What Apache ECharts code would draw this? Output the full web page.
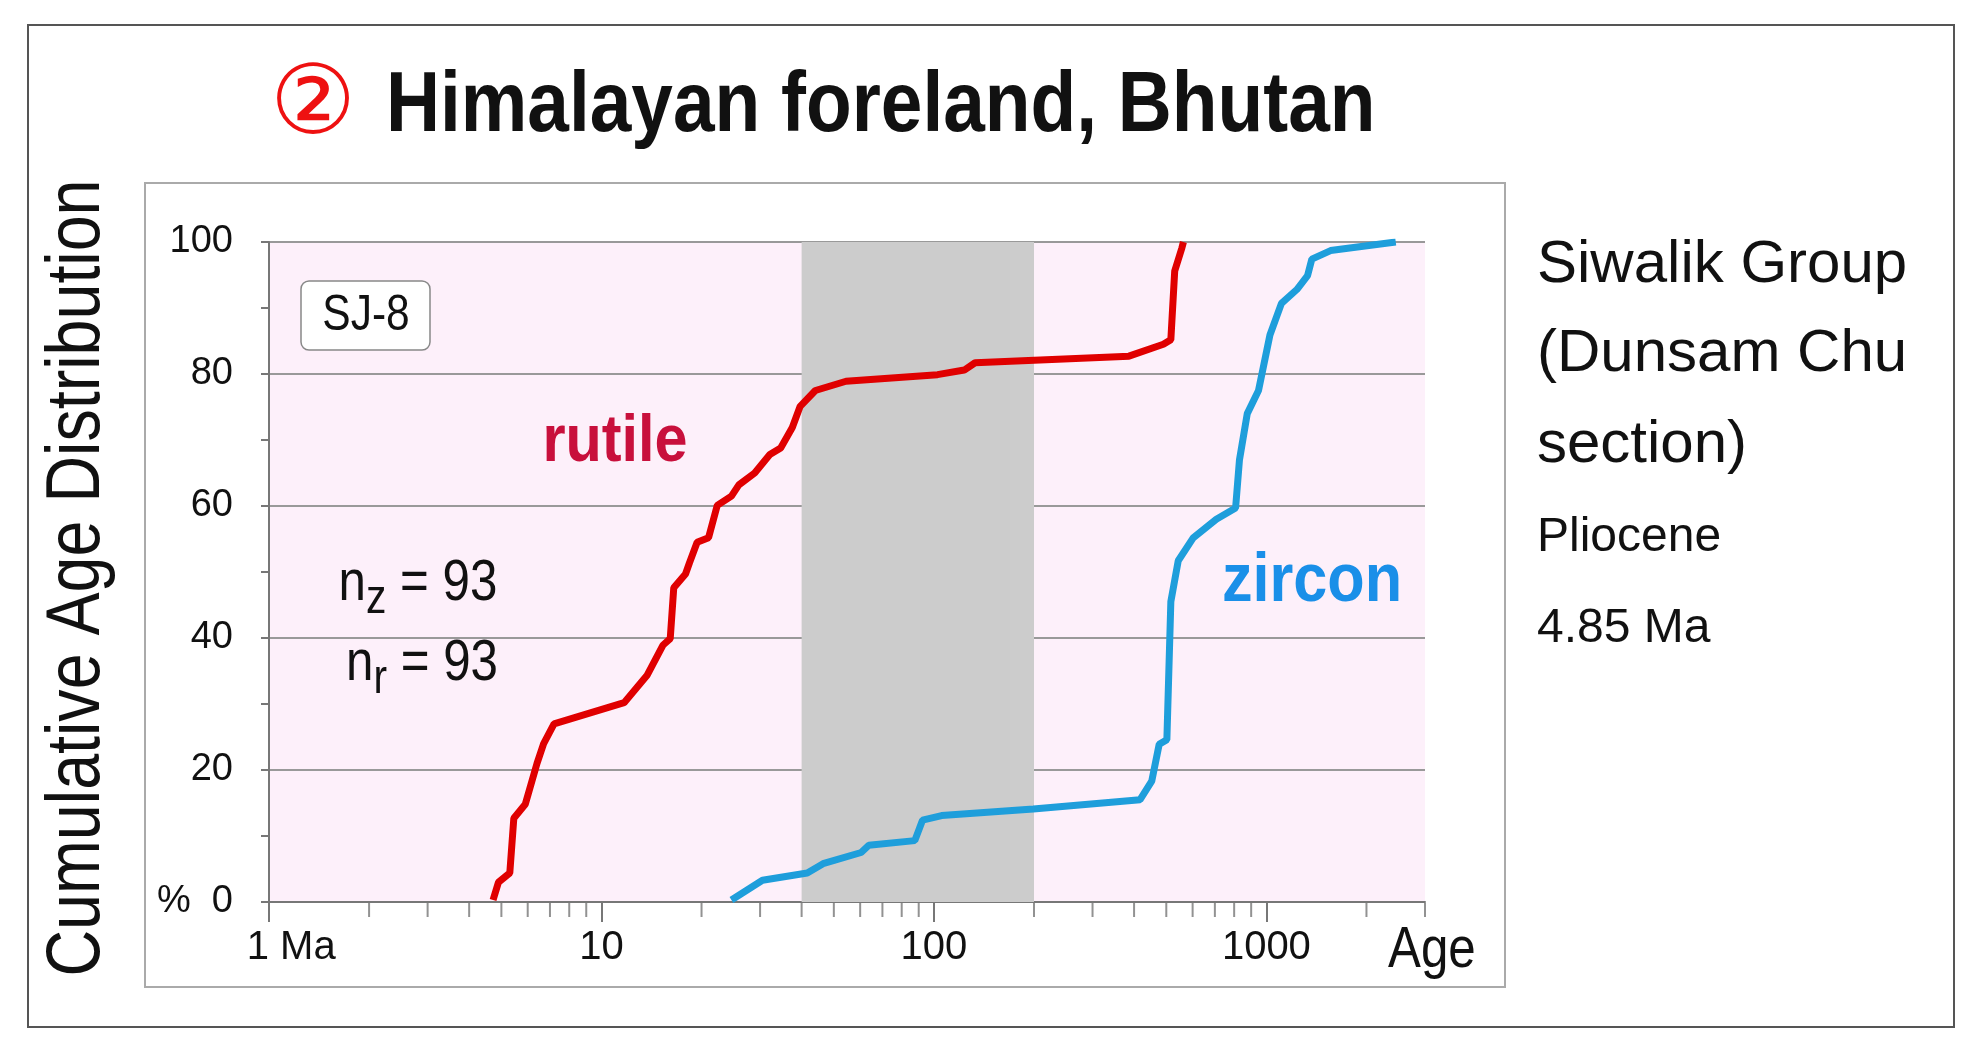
<!DOCTYPE html>
<html>
<head>
<meta charset="utf-8">
<script src="https://cdn.jsdelivr.net/npm/echarts@6/dist/echarts.min.js"></script>
<style>
  html, body { margin: 0; padding: 0; background: #fff; }
  #chart { width: 1983px; height: 1054px; }
</style>
</head>
<body>
<div id="chart"></div>
<script>
// ages in Ma, cumulative %
const rutileAge = [4.72, 4.9, 5.3, 5.45, 5.9, 6.4, 6.7, 7.2, 11.7, 13.7, 15.3, 16.1, 16.5, 17.9, 18.4, 19.4, 21.0, 22.3, 24.6, 25.9, 28.9, 32.1, 34.6, 37.5, 39.6, 44, 54.4, 102.5, 123.4, 133, 386, 490, 516, 530, 557, 563];
const rutilePct = [0.3, 3, 4.4, 12.7, 14.8, 21, 24, 27, 30.2, 34.3, 38.9, 39.9, 47.6, 49.7, 51.4, 54.5, 55.2, 60.1, 61.5, 63.2, 65, 67.8, 68.8, 71.9, 75.1, 77.5, 78.9, 79.9, 80.6, 81.7, 82.7, 84.5, 85.2, 95.6, 99.1, 100];
const zirconAge = [24.6, 30.5, 41.6, 46.4, 60.4, 63.7, 87.6, 92.4, 105.5, 199, 417, 452, 476, 502, 516, 543, 603, 707, 808, 830, 876, 947, 1025, 1110, 1235, 1330, 1370, 1560, 2450];
const zirconPct = [0.3, 3.3, 4.4, 5.8, 7.5, 8.6, 9.3, 12.4, 13.1, 14.1, 15.5, 18.3, 23.9, 24.6, 45.5, 51.7, 55.2, 58, 59.7, 67, 74, 77.5, 85.9, 90.7, 92.8, 94.9, 97.4, 98.7, 100];
const bandAge = [40, 200];
const minorTickAge = [2, 3, 4, 5, 6, 7, 8, 9, 20, 30, 40, 50, 60, 70, 80, 90, 200, 300, 400, 500, 600, 700, 800, 900, 2000, 3000];

const chart = echarts.init(document.getElementById('chart'));
const font = 'Liberation Sans, Arial, sans-serif';

const pair = (xs, ys) => xs.map((x, i) => [x, ys[i]]);

chart.setOption({
  animation: false,
  grid: { left: 269, right: 558, top: 242, bottom: 152, show: true, backgroundColor: '#fdf0fa', borderWidth: 0 },
  xAxis: {
    type: 'log', logBase: 10, min: 1, max: 3000, interval: 1,
    axisLine: { lineStyle: { color: '#777', width: 2 } },
    axisTick: { show: true, length: 20, lineStyle: { color: '#777', width: 2 } },
    splitLine: { show: false },
    axisLabel: {
      showMaxLabel: false, margin: 26, color: '#111', fontFamily: font, fontSize: 40,
      formatter: v => (v === 1 ? '    1 Ma' : String(v))
    }
  },
  yAxis: {
    type: 'value', min: 0, max: 100, interval: 20,
    axisLine: { show: true, lineStyle: { color: '#777', width: 2 } },
    axisTick: { show: true, length: 8, lineStyle: { color: '#777', width: 2 } },
    minorTick: { show: true, splitNumber: 2, length: 8, lineStyle: { color: '#777', width: 2 } },
    splitLine: { lineStyle: { color: '#999', width: 2 } },
    axisLabel: { margin: 36, color: '#111', fontFamily: font, fontSize: 38,
      formatter: v => (v === 0 ? '%  0' : String(v)) }
  },
  series: [
    {
      type: 'line', data: [], silent: true,
      markArea: { silent: true, itemStyle: { color: '#cccccc' }, data: [[{ xAxis: bandAge[0] }, { xAxis: bandAge[1] }]] }
    },
    {
      name: 'rutile', type: 'line', data: pair(rutileAge, rutilePct), symbol: 'none',
      lineStyle: { color: '#e00000', width: 7 }, z: 3
    },
    {
      name: 'zircon', type: 'line', data: pair(zirconAge, zirconPct), symbol: 'none',
      lineStyle: { color: '#1e9edb', width: 7 }, z: 3
    },
    {
      type: 'scatter', data: minorTickAge.map(a => [a, 0]), symbol: 'rect',
      symbolSize: [2, 14], symbolOffset: [0, 8], itemStyle: { color: '#777' }, clip: false, silent: true, z: 4
    }
  ],
  graphic: [
    { type: 'rect', shape: { x: 28, y: 25, width: 1926, height: 1002 }, style: { fill: 'none', stroke: '#555', lineWidth: 2 }, z: -10 },
    { type: 'rect', shape: { x: 145, y: 183, width: 1360, height: 804 }, style: { fill: 'none', stroke: '#aaa', lineWidth: 2 }, z: -10 },
    { type: 'text', x: 313, y: 107, style: { text: '②', fill: '#ee1111', font: '96px ' + font, textVerticalAlign: 'middle', textAlign: 'center' } },
    { type: 'text', x: 386, y: 107, scaleX: 0.87, style: { text: 'Himalayan foreland, Bhutan', fill: '#111', font: 'bold 86px ' + font, textVerticalAlign: 'middle' } },
    { type: 'text', x: 78, y: 578, rotation: Math.PI / 2, scaleX: 0.85, style: { text: 'Cumulative Age Distribution', fill: '#111', font: '76px ' + font, textAlign: 'center', textVerticalAlign: 'middle' } },
    { type: 'text', x: 1388, y: 951, scaleX: 0.85, style: { text: 'Age', fill: '#111', font: '58px ' + font, textVerticalAlign: 'middle' } },
    { type: 'text', x: 615, y: 443, scaleX: 0.9, style: { text: 'rutile', fill: '#c8103c', font: 'bold 66px ' + font, textAlign: 'center', textVerticalAlign: 'middle' }, z: 10 },
    { type: 'text', x: 1312, y: 582, scaleX: 0.9, style: { text: 'zircon', fill: '#1a8fe8', font: 'bold 68px ' + font, textAlign: 'center', textVerticalAlign: 'middle' }, z: 10 },
    { type: 'rect', shape: { x: 301, y: 281, width: 129, height: 69, r: 8 }, style: { fill: '#fff', stroke: '#888', lineWidth: 1.5 }, z: 10 },
    { type: 'text', x: 366, y: 316, scaleX: 0.85, style: { text: 'SJ-8', fill: '#111', font: '50px ' + font, textAlign: 'center', textVerticalAlign: 'middle' }, z: 11 },
    { type: 'text', x: 418, y: 584, scaleX: 0.85, style: {
        text: '{a|n}{s|z}{a| = 93}', textAlign: 'center', textVerticalAlign: 'middle',
        rich: { a: { fontFamily: font, fontSize: 58, fill: '#111' }, s: { fontFamily: font, fontSize: 48, fill: '#111', padding: [32, 0, 0, 0] } }
      }, z: 10 },
    { type: 'text', x: 422, y: 664, scaleX: 0.85, style: {
        text: '{a|n}{s|r}{a| = 93}', textAlign: 'center', textVerticalAlign: 'middle',
        rich: { a: { fontFamily: font, fontSize: 58, fill: '#111' }, s: { fontFamily: font, fontSize: 48, fill: '#111', padding: [32, 0, 0, 0] } }
      }, z: 10 },
    { type: 'text', x: 1537, y: 265, style: { text: 'Siwalik Group', fill: '#111', font: '60px ' + font, textVerticalAlign: 'middle' } },
    { type: 'text', x: 1537, y: 354, style: { text: '(Dunsam Chu', fill: '#111', font: '60px ' + font, textVerticalAlign: 'middle' } },
    { type: 'text', x: 1537, y: 445, style: { text: 'section)', fill: '#111', font: '60px ' + font, textVerticalAlign: 'middle' } },
    { type: 'text', x: 1537, y: 538, style: { text: 'Pliocene', fill: '#111', font: '48px ' + font, textVerticalAlign: 'middle' } },
    { type: 'text', x: 1537, y: 629, style: { text: '4.85 Ma', fill: '#111', font: '48px ' + font, textVerticalAlign: 'middle' } }
  ]
});
</script>
</body>
</html>
